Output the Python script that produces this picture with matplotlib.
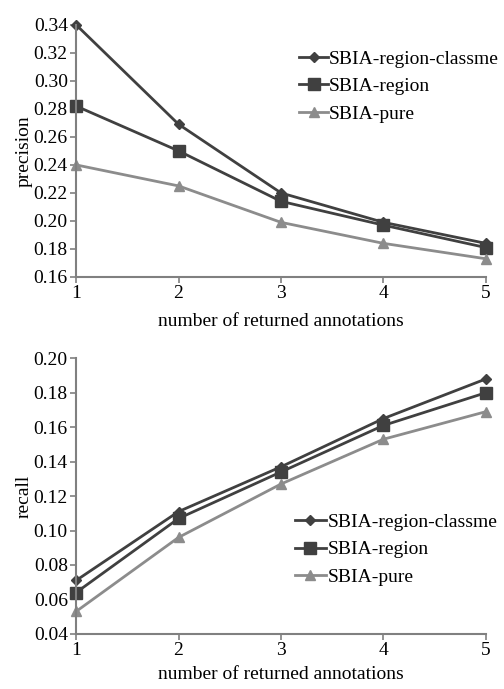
import numpy as np
import matplotlib.pyplot as plt

plt.rcParams['font.family'] = ['Liberation Serif', 'DejaVu Serif']

x = [1, 2, 3, 4, 5]
labels = ["SBIA-region-classme", "SBIA-region", "SBIA-pure"]

# precision values
prec_classme = [0.340, 0.269, 0.220, 0.199, 0.184]
prec_region = [0.282, 0.250, 0.214, 0.197, 0.181]
prec_pure = [0.240, 0.225, 0.199, 0.184, 0.173]

# recall values
rec_classme = [0.071, 0.111, 0.137, 0.165, 0.188]
rec_region = [0.064, 0.107, 0.134, 0.161, 0.180]
rec_pure = [0.053, 0.096, 0.127, 0.153, 0.169]

colors = ["#404040", "#404040", "#8c8c8c"]
markers = ["D", "s", "^"]
msizes = [5, 8, 7]
fs = 14

fig = plt.figure(figsize=(5.04, 6.89), dpi=100)
ax1 = fig.add_axes([0.151, 0.598, 0.813, 0.366])
ax2 = fig.add_axes([0.151, 0.080, 0.813, 0.400])


def style(ax, ymin, ymax, ylabel, lpad):
    for s in ["top", "right"]:
        ax.spines[s].set_visible(False)
    for s in ["left", "bottom"]:
        ax.spines[s].set_color("#808080")
        ax.spines[s].set_linewidth(1.5)
    ax.set_xlim(1, 5)
    ax.set_ylim(ymin, ymax)
    ax.set_xticks(x)
    ax.tick_params(axis="both", colors="#808080", width=1.2, length=4, labelsize=fs,
                   labelcolor="black", pad=2)
    ax.set_xlabel("number of returned annotations", fontsize=fs, labelpad=lpad)
    ax.set_ylabel(ylabel, fontsize=fs, labelpad=1)


top_series = [prec_classme, prec_region, prec_pure]
for i, y in enumerate(top_series):
    ax1.plot(x, y, color=colors[i], marker=markers[i], markersize=msizes[i], lw=2,
             label=labels[i], clip_on=False)
style(ax1, 0.16, 0.34, "precision", 8)
ax1.set_yticks(np.arange(0.16, 0.341, 0.02))
ax1.set_yticklabels(["%.2f" % v for v in np.arange(0.16, 0.341, 0.02)])
ax1.legend(loc="upper left", bbox_to_anchor=(0.525, 0.93), frameon=False, fontsize=fs,
           handlelength=1.5, handletextpad=0.05, labelspacing=0.5, borderaxespad=0)

bottom_series = [rec_classme, rec_region, rec_pure]
for i, y in enumerate(bottom_series):
    ax2.plot(x, y, color=colors[i], marker=markers[i], markersize=msizes[i], lw=2,
             label=labels[i], clip_on=False)
style(ax2, 0.04, 0.20, "recall", 5)
ax2.set_yticks(np.arange(0.04, 0.201, 0.02))
ax2.set_yticklabels(["%.2f" % v for v in np.arange(0.04, 0.201, 0.02)])
ax2.legend(loc="upper left", bbox_to_anchor=(0.515, 0.465), frameon=False, fontsize=fs,
           handlelength=1.6, handletextpad=0.1, labelspacing=0.5, borderaxespad=0)

fig.savefig("out.png", dpi=100)
